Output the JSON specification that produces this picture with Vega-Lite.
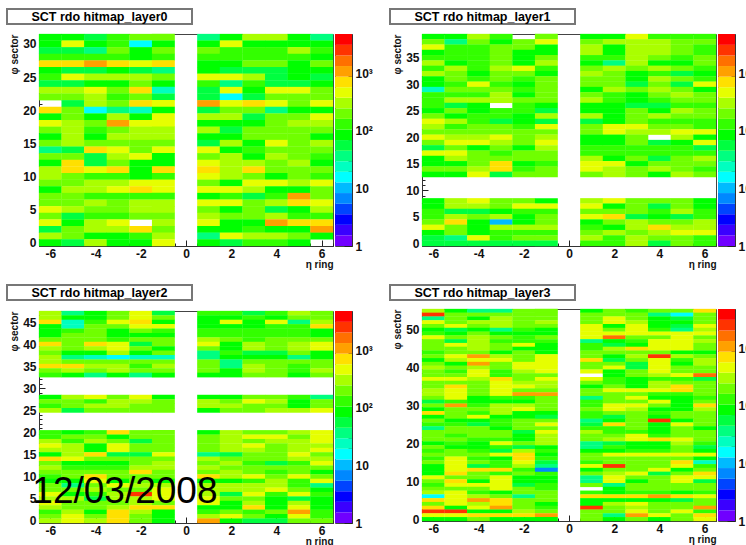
{"$schema":"https://vega.github.io/schema/vega-lite/v6.json","padding":{"left":6,"top":8,"right":0,"bottom":0},"background":"white","config":{"font":"Liberation Sans","view":{"stroke":"#444","strokeWidth":1},"axis":{"grid":false,"labelFont":"Liberation Sans","labelFontWeight":"bold","labelFontSize":12,"labelColor":"#111","titleFont":"Liberation Sans","titleFontWeight":"bold","titleFontSize":10,"titleColor":"#111","domainColor":"#333","tickColor":"#222","labelOverlap":false,"labelBound":false,"labelFlush":false,"zindex":1}},"datasets":{"c":[{"lo":1,"hi":1.53},{"lo":1.53,"hi":2.33},{"lo":2.33,"hi":3.56},{"lo":3.56,"hi":5.4},{"lo":5.4,"hi":8.3},{"lo":8.3,"hi":12.7},{"lo":12.7,"hi":19.4},{"lo":19.4,"hi":29.6},{"lo":29.6,"hi":45},{"lo":45,"hi":69},{"lo":69,"hi":105},{"lo":105,"hi":161},{"lo":161,"hi":245},{"lo":245,"hi":375},{"lo":375,"hi":570},{"lo":570,"hi":870},{"lo":870,"hi":1330},{"lo":1330,"hi":2030},{"lo":2030,"hi":3100},{"lo":3100,"hi":4786}],
"l0":[
{"e":-6,"s":31,"v":85},{"e":-5,"s":31,"v":85},{"e":-4,"s":31,"v":56},{"e":-3,"s":31,"v":130},{"e":-2,"s":31,"v":200},{"e":-1,"s":31,"v":200},{"e":1,"s":31,"v":37},{"e":2,"s":31,"v":85},{"e":3,"s":31,"v":305},{"e":4,"s":31,"v":305},{"e":5,"s":31,"v":85},{"e":6,"s":31,"v":37},
{"e":-6,"s":30,"v":85},{"e":-5,"s":30,"v":465},{"e":-4,"s":30,"v":85},{"e":-3,"s":30,"v":130},{"e":-2,"s":30,"v":16},{"e":-1,"s":30,"v":85},{"e":1,"s":30,"v":85},{"e":2,"s":30,"v":465},{"e":3,"s":30,"v":85},{"e":4,"s":30,"v":85},{"e":5,"s":30,"v":85},{"e":6,"s":30,"v":85},
{"e":-6,"s":29,"v":56},{"e":-5,"s":29,"v":56},{"e":-4,"s":29,"v":37},{"e":-3,"s":29,"v":200},{"e":-2,"s":29,"v":85},{"e":-1,"s":29,"v":200},{"e":1,"s":29,"v":200},{"e":2,"s":29,"v":130},{"e":3,"s":29,"v":130},{"e":4,"s":29,"v":130},{"e":5,"s":29,"v":305},{"e":6,"s":29,"v":130},
{"e":-6,"s":28,"v":130},{"e":-5,"s":28,"v":130},{"e":-4,"s":28,"v":130},{"e":-3,"s":28,"v":130},{"e":-2,"s":28,"v":85},{"e":-1,"s":28,"v":130},{"e":1,"s":28,"v":130},{"e":2,"s":28,"v":130},{"e":3,"s":28,"v":130},{"e":4,"s":28,"v":130},{"e":5,"s":28,"v":130},{"e":6,"s":28,"v":85},
{"e":-6,"s":27,"v":705},{"e":-5,"s":27,"v":705},{"e":-4,"s":27,"v":1080},{"e":-3,"s":27,"v":705},{"e":-2,"s":27,"v":465},{"e":-1,"s":27,"v":705},{"e":1,"s":27,"v":85},{"e":2,"s":27,"v":85},{"e":3,"s":27,"v":200},{"e":4,"s":27,"v":200},{"e":5,"s":27,"v":85},{"e":6,"s":27,"v":200},
{"e":-6,"s":26,"v":85},{"e":-5,"s":26,"v":56},{"e":-4,"s":26,"v":56},{"e":-3,"s":26,"v":85},{"e":-2,"s":26,"v":56},{"e":-1,"s":26,"v":37},{"e":1,"s":26,"v":85},{"e":2,"s":26,"v":56},{"e":3,"s":26,"v":56},{"e":4,"s":26,"v":56},{"e":5,"s":26,"v":85},{"e":6,"s":26,"v":85},
{"e":-6,"s":25,"v":130},{"e":-5,"s":25,"v":465},{"e":-4,"s":25,"v":305},{"e":-3,"s":25,"v":305},{"e":-2,"s":25,"v":305},{"e":-1,"s":25,"v":200},{"e":1,"s":25,"v":465},{"e":2,"s":25,"v":465},{"e":3,"s":25,"v":305},{"e":4,"s":25,"v":56},{"e":5,"s":25,"v":85},{"e":6,"s":25,"v":56},
{"e":-6,"s":24,"v":56},{"e":-5,"s":24,"v":56},{"e":-4,"s":24,"v":85},{"e":-3,"s":24,"v":85},{"e":-2,"s":24,"v":200},{"e":-1,"s":24,"v":85},{"e":1,"s":24,"v":130},{"e":2,"s":24,"v":37},{"e":3,"s":24,"v":130},{"e":4,"s":24,"v":56},{"e":5,"s":24,"v":56},{"e":6,"s":24,"v":85},
{"e":-6,"s":23,"v":305},{"e":-5,"s":23,"v":305},{"e":-4,"s":23,"v":465},{"e":-3,"s":23,"v":200},{"e":-2,"s":23,"v":705},{"e":-1,"s":23,"v":24},{"e":1,"s":23,"v":56},{"e":2,"s":23,"v":465},{"e":3,"s":23,"v":85},{"e":4,"s":23,"v":465},{"e":5,"s":23,"v":465},{"e":6,"s":23,"v":200},
{"e":-6,"s":22,"v":200},{"e":-5,"s":22,"v":200},{"e":-4,"s":22,"v":305},{"e":-3,"s":22,"v":130},{"e":-2,"s":22,"v":200},{"e":-1,"s":22,"v":56},{"e":1,"s":22,"v":56},{"e":2,"s":22,"v":16},{"e":3,"s":22,"v":56},{"e":4,"s":22,"v":200},{"e":5,"s":22,"v":200},{"e":6,"s":22,"v":200},
{"e":-5,"s":21,"v":45},{"e":-4,"s":21,"v":305},{"e":-3,"s":21,"v":200},{"e":-2,"s":21,"v":705},{"e":-1,"s":21,"v":465},{"e":1,"s":21,"v":1080},{"e":2,"s":21,"v":465},{"e":3,"s":21,"v":705},{"e":4,"s":21,"v":465},{"e":5,"s":21,"v":200},{"e":6,"s":21,"v":465},
{"e":-6,"s":20,"v":705},{"e":-5,"s":20,"v":200},{"e":-4,"s":20,"v":16},{"e":-3,"s":20,"v":37},{"e":-2,"s":20,"v":24},{"e":-1,"s":20,"v":85},{"e":1,"s":20,"v":56},{"e":2,"s":20,"v":200},{"e":3,"s":20,"v":200},{"e":4,"s":20,"v":37},{"e":5,"s":20,"v":85},{"e":6,"s":20,"v":85},
{"e":-6,"s":19,"v":85},{"e":-5,"s":19,"v":200},{"e":-4,"s":19,"v":85},{"e":-3,"s":19,"v":305},{"e":-2,"s":19,"v":85},{"e":-1,"s":19,"v":465},{"e":1,"s":19,"v":305},{"e":2,"s":19,"v":305},{"e":3,"s":19,"v":56},{"e":4,"s":19,"v":200},{"e":5,"s":19,"v":200},{"e":6,"s":19,"v":465},
{"e":-6,"s":18,"v":465},{"e":-5,"s":18,"v":305},{"e":-4,"s":18,"v":200},{"e":-3,"s":18,"v":1080},{"e":-2,"s":18,"v":465},{"e":-1,"s":18,"v":465},{"e":1,"s":18,"v":85},{"e":2,"s":18,"v":85},{"e":3,"s":18,"v":85},{"e":4,"s":18,"v":200},{"e":5,"s":18,"v":305},{"e":6,"s":18,"v":305},
{"e":-6,"s":17,"v":200},{"e":-5,"s":17,"v":305},{"e":-4,"s":17,"v":130},{"e":-3,"s":17,"v":200},{"e":-2,"s":17,"v":305},{"e":-1,"s":17,"v":305},{"e":1,"s":17,"v":305},{"e":2,"s":17,"v":56},{"e":3,"s":17,"v":200},{"e":4,"s":17,"v":200},{"e":5,"s":17,"v":200},{"e":6,"s":17,"v":200},
{"e":-6,"s":16,"v":85},{"e":-5,"s":16,"v":305},{"e":-4,"s":16,"v":85},{"e":-3,"s":16,"v":305},{"e":-2,"s":16,"v":305},{"e":-1,"s":16,"v":305},{"e":1,"s":16,"v":85},{"e":2,"s":16,"v":85},{"e":3,"s":16,"v":200},{"e":4,"s":16,"v":200},{"e":5,"s":16,"v":200},{"e":6,"s":16,"v":85},
{"e":-6,"s":15,"v":200},{"e":-5,"s":15,"v":305},{"e":-4,"s":15,"v":200},{"e":-3,"s":15,"v":200},{"e":-2,"s":15,"v":200},{"e":-1,"s":15,"v":200},{"e":1,"s":15,"v":56},{"e":2,"s":15,"v":305},{"e":3,"s":15,"v":85},{"e":4,"s":15,"v":465},{"e":5,"s":15,"v":200},{"e":6,"s":15,"v":305},
{"e":-6,"s":14,"v":37},{"e":-5,"s":14,"v":56},{"e":-4,"s":14,"v":705},{"e":-3,"s":14,"v":465},{"e":-2,"s":14,"v":200},{"e":-1,"s":14,"v":465},{"e":1,"s":14,"v":465},{"e":2,"s":14,"v":85},{"e":3,"s":14,"v":130},{"e":4,"s":14,"v":200},{"e":5,"s":14,"v":200},{"e":6,"s":14,"v":200},
{"e":-6,"s":13,"v":200},{"e":-5,"s":13,"v":200},{"e":-4,"s":13,"v":56},{"e":-3,"s":13,"v":305},{"e":-2,"s":13,"v":465},{"e":-1,"s":13,"v":85},{"e":1,"s":13,"v":200},{"e":2,"s":13,"v":305},{"e":3,"s":13,"v":85},{"e":4,"s":13,"v":305},{"e":5,"s":13,"v":200},{"e":6,"s":13,"v":130},
{"e":-6,"s":12,"v":85},{"e":-5,"s":12,"v":705},{"e":-4,"s":12,"v":56},{"e":-3,"s":12,"v":200},{"e":-2,"s":12,"v":85},{"e":-1,"s":12,"v":85},{"e":1,"s":12,"v":465},{"e":2,"s":12,"v":305},{"e":3,"s":12,"v":305},{"e":4,"s":12,"v":200},{"e":5,"s":12,"v":305},{"e":6,"s":12,"v":85},
{"e":-6,"s":11,"v":305},{"e":-5,"s":11,"v":705},{"e":-4,"s":11,"v":465},{"e":-3,"s":11,"v":705},{"e":-2,"s":11,"v":85},{"e":-1,"s":11,"v":705},{"e":1,"s":11,"v":705},{"e":2,"s":11,"v":305},{"e":3,"s":11,"v":705},{"e":4,"s":11,"v":200},{"e":5,"s":11,"v":200},{"e":6,"s":11,"v":200},
{"e":-6,"s":10,"v":305},{"e":-5,"s":10,"v":200},{"e":-4,"s":10,"v":130},{"e":-3,"s":10,"v":130},{"e":-2,"s":10,"v":85},{"e":-1,"s":10,"v":130},{"e":1,"s":10,"v":465},{"e":2,"s":10,"v":305},{"e":3,"s":10,"v":200},{"e":4,"s":10,"v":85},{"e":5,"s":10,"v":200},{"e":6,"s":10,"v":130},
{"e":-6,"s":9,"v":200},{"e":-5,"s":9,"v":200},{"e":-4,"s":9,"v":305},{"e":-3,"s":9,"v":305},{"e":-2,"s":9,"v":465},{"e":-1,"s":9,"v":465},{"e":1,"s":9,"v":200},{"e":2,"s":9,"v":85},{"e":3,"s":9,"v":465},{"e":4,"s":9,"v":465},{"e":5,"s":9,"v":305},{"e":6,"s":9,"v":465},
{"e":-6,"s":8,"v":85},{"e":-5,"s":8,"v":305},{"e":-4,"s":8,"v":305},{"e":-3,"s":8,"v":465},{"e":-2,"s":8,"v":705},{"e":-1,"s":8,"v":465},{"e":1,"s":8,"v":465},{"e":2,"s":8,"v":465},{"e":3,"s":8,"v":305},{"e":4,"s":8,"v":85},{"e":5,"s":8,"v":85},{"e":6,"s":8,"v":200},
{"e":-6,"s":7,"v":200},{"e":-5,"s":7,"v":200},{"e":-4,"s":7,"v":130},{"e":-3,"s":7,"v":130},{"e":-2,"s":7,"v":130},{"e":-1,"s":7,"v":130},{"e":1,"s":7,"v":85},{"e":2,"s":7,"v":130},{"e":3,"s":7,"v":56},{"e":4,"s":7,"v":130},{"e":5,"s":7,"v":1080},{"e":6,"s":7,"v":200},
{"e":-6,"s":6,"v":200},{"e":-5,"s":6,"v":200},{"e":-4,"s":6,"v":305},{"e":-3,"s":6,"v":200},{"e":-2,"s":6,"v":305},{"e":-1,"s":6,"v":305},{"e":1,"s":6,"v":465},{"e":2,"s":6,"v":465},{"e":3,"s":6,"v":200},{"e":4,"s":6,"v":305},{"e":5,"s":6,"v":705},{"e":6,"s":6,"v":465},
{"e":-6,"s":5,"v":465},{"e":-5,"s":5,"v":305},{"e":-4,"s":5,"v":200},{"e":-3,"s":5,"v":200},{"e":-2,"s":5,"v":305},{"e":-1,"s":5,"v":305},{"e":1,"s":5,"v":200},{"e":2,"s":5,"v":85},{"e":3,"s":5,"v":200},{"e":4,"s":5,"v":56},{"e":5,"s":5,"v":85},{"e":6,"s":5,"v":305},
{"e":-6,"s":4,"v":200},{"e":-5,"s":4,"v":56},{"e":-4,"s":4,"v":130},{"e":-3,"s":4,"v":130},{"e":-2,"s":4,"v":200},{"e":-1,"s":4,"v":200},{"e":1,"s":4,"v":305},{"e":2,"s":4,"v":200},{"e":3,"s":4,"v":200},{"e":4,"s":4,"v":305},{"e":5,"s":4,"v":130},{"e":6,"s":4,"v":130},
{"e":-6,"s":3,"v":465},{"e":-5,"s":3,"v":85},{"e":-4,"s":3,"v":305},{"e":-3,"s":3,"v":465},{"e":-1,"s":3,"v":305},{"e":1,"s":3,"v":465},{"e":2,"s":3,"v":85},{"e":3,"s":3,"v":85},{"e":4,"s":3,"v":1080},{"e":5,"s":3,"v":705},{"e":6,"s":3,"v":705},
{"e":-6,"s":2,"v":56},{"e":-5,"s":2,"v":200},{"e":-4,"s":2,"v":305},{"e":-3,"s":2,"v":305},{"e":-2,"s":2,"v":705},{"e":-1,"s":2,"v":200},{"e":1,"s":2,"v":85},{"e":2,"s":2,"v":85},{"e":3,"s":2,"v":130},{"e":4,"s":2,"v":85},{"e":5,"s":2,"v":85},{"e":6,"s":2,"v":1080},
{"e":-6,"s":1,"v":305},{"e":-5,"s":1,"v":200},{"e":-4,"s":1,"v":85},{"e":-3,"s":1,"v":85},{"e":-2,"s":1,"v":130},{"e":-1,"s":1,"v":305},{"e":1,"s":1,"v":37},{"e":2,"s":1,"v":465},{"e":3,"s":1,"v":305},{"e":4,"s":1,"v":305},{"e":5,"s":1,"v":200},{"e":6,"s":1,"v":85},
{"e":-6,"s":0,"v":85},{"e":-5,"s":0,"v":56},{"e":-4,"s":0,"v":305},{"e":-3,"s":0,"v":85},{"e":-2,"s":0,"v":85},{"e":-1,"s":0,"v":465},{"e":1,"s":0,"v":85},{"e":2,"s":0,"v":56},{"e":3,"s":0,"v":130},{"e":4,"s":0,"v":130},{"e":5,"s":0,"v":85}],
"l1":[
{"e":-6,"s":39,"v":85},{"e":-5,"s":39,"v":85},{"e":-4,"s":39,"v":305},{"e":-3,"s":39,"v":130},{"e":-1,"s":39,"v":200},{"e":1,"s":39,"v":85},{"e":2,"s":39,"v":85},{"e":3,"s":39,"v":465},{"e":4,"s":39,"v":130},{"e":5,"s":39,"v":130},{"e":6,"s":39,"v":130},
{"e":-6,"s":38,"v":200},{"e":-5,"s":38,"v":37},{"e":-4,"s":38,"v":200},{"e":-3,"s":38,"v":85},{"e":-2,"s":38,"v":200},{"e":-1,"s":38,"v":465},{"e":1,"s":38,"v":200},{"e":2,"s":38,"v":305},{"e":3,"s":38,"v":305},{"e":4,"s":38,"v":305},{"e":5,"s":38,"v":200},{"e":6,"s":38,"v":200},
{"e":-6,"s":37,"v":465},{"e":-5,"s":37,"v":130},{"e":-4,"s":37,"v":130},{"e":-3,"s":37,"v":200},{"e":-2,"s":37,"v":200},{"e":-1,"s":37,"v":85},{"e":1,"s":37,"v":305},{"e":2,"s":37,"v":85},{"e":3,"s":37,"v":305},{"e":4,"s":37,"v":305},{"e":5,"s":37,"v":200},{"e":6,"s":37,"v":130},
{"e":-6,"s":36,"v":85},{"e":-5,"s":36,"v":130},{"e":-4,"s":36,"v":130},{"e":-3,"s":36,"v":200},{"e":-2,"s":36,"v":85},{"e":-1,"s":36,"v":85},{"e":1,"s":36,"v":305},{"e":2,"s":36,"v":85},{"e":3,"s":36,"v":305},{"e":4,"s":36,"v":305},{"e":5,"s":36,"v":200},{"e":6,"s":36,"v":130},
{"e":-6,"s":35,"v":130},{"e":-5,"s":35,"v":130},{"e":-4,"s":35,"v":130},{"e":-3,"s":35,"v":200},{"e":-2,"s":35,"v":85},{"e":-1,"s":35,"v":200},{"e":1,"s":35,"v":130},{"e":2,"s":35,"v":130},{"e":3,"s":35,"v":305},{"e":4,"s":35,"v":200},{"e":5,"s":35,"v":130},{"e":6,"s":35,"v":200},
{"e":-6,"s":34,"v":305},{"e":-5,"s":34,"v":85},{"e":-4,"s":34,"v":130},{"e":-3,"s":34,"v":200},{"e":-2,"s":34,"v":85},{"e":-1,"s":34,"v":305},{"e":1,"s":34,"v":85},{"e":2,"s":34,"v":37},{"e":3,"s":34,"v":305},{"e":4,"s":34,"v":85},{"e":5,"s":34,"v":85},{"e":6,"s":34,"v":200},
{"e":-6,"s":33,"v":130},{"e":-5,"s":33,"v":305},{"e":-4,"s":33,"v":130},{"e":-3,"s":33,"v":305},{"e":-2,"s":33,"v":465},{"e":-1,"s":33,"v":130},{"e":1,"s":33,"v":200},{"e":2,"s":33,"v":305},{"e":3,"s":33,"v":200},{"e":4,"s":33,"v":305},{"e":5,"s":33,"v":200},{"e":6,"s":33,"v":130},
{"e":-6,"s":32,"v":305},{"e":-5,"s":32,"v":200},{"e":-4,"s":32,"v":85},{"e":-3,"s":32,"v":200},{"e":-2,"s":32,"v":200},{"e":-1,"s":32,"v":85},{"e":1,"s":32,"v":305},{"e":2,"s":32,"v":200},{"e":3,"s":32,"v":85},{"e":4,"s":32,"v":130},{"e":5,"s":32,"v":56},{"e":6,"s":32,"v":85},
{"e":-6,"s":31,"v":85},{"e":-5,"s":31,"v":200},{"e":-4,"s":31,"v":130},{"e":-3,"s":31,"v":200},{"e":-2,"s":31,"v":130},{"e":-1,"s":31,"v":200},{"e":1,"s":31,"v":200},{"e":2,"s":31,"v":200},{"e":3,"s":31,"v":85},{"e":4,"s":31,"v":305},{"e":5,"s":31,"v":200},{"e":6,"s":31,"v":130},
{"e":-6,"s":30,"v":85},{"e":-5,"s":30,"v":130},{"e":-4,"s":30,"v":465},{"e":-3,"s":30,"v":130},{"e":-2,"s":30,"v":85},{"e":-1,"s":30,"v":200},{"e":1,"s":30,"v":200},{"e":2,"s":30,"v":200},{"e":3,"s":30,"v":56},{"e":4,"s":30,"v":200},{"e":5,"s":30,"v":56},{"e":6,"s":30,"v":465},
{"e":-6,"s":29,"v":24},{"e":-5,"s":29,"v":200},{"e":-4,"s":29,"v":200},{"e":-3,"s":29,"v":200},{"e":-2,"s":29,"v":130},{"e":-1,"s":29,"v":200},{"e":1,"s":29,"v":85},{"e":2,"s":29,"v":305},{"e":3,"s":29,"v":200},{"e":4,"s":29,"v":305},{"e":5,"s":29,"v":200},{"e":6,"s":29,"v":85},
{"e":-6,"s":28,"v":130},{"e":-5,"s":28,"v":130},{"e":-4,"s":28,"v":130},{"e":-3,"s":28,"v":305},{"e":-2,"s":28,"v":85},{"e":-1,"s":28,"v":200},{"e":1,"s":28,"v":200},{"e":2,"s":28,"v":130},{"e":3,"s":28,"v":85},{"e":4,"s":28,"v":200},{"e":5,"s":28,"v":305},{"e":6,"s":28,"v":200},
{"e":-6,"s":27,"v":130},{"e":-5,"s":27,"v":305},{"e":-4,"s":27,"v":305},{"e":-3,"s":27,"v":305},{"e":-2,"s":27,"v":200},{"e":-1,"s":27,"v":200},{"e":1,"s":27,"v":305},{"e":2,"s":27,"v":130},{"e":3,"s":27,"v":85},{"e":4,"s":27,"v":130},{"e":5,"s":27,"v":200},{"e":6,"s":27,"v":200},
{"e":-6,"s":26,"v":130},{"e":-5,"s":26,"v":56},{"e":-4,"s":26,"v":85},{"e":-2,"s":26,"v":130},{"e":-1,"s":26,"v":85},{"e":1,"s":26,"v":85},{"e":2,"s":26,"v":85},{"e":3,"s":26,"v":56},{"e":4,"s":26,"v":56},{"e":5,"s":26,"v":130},{"e":6,"s":26,"v":130},
{"e":-6,"s":25,"v":85},{"e":-5,"s":25,"v":200},{"e":-4,"s":25,"v":85},{"e":-3,"s":25,"v":130},{"e":-2,"s":25,"v":130},{"e":-1,"s":25,"v":56},{"e":1,"s":25,"v":85},{"e":2,"s":25,"v":85},{"e":3,"s":25,"v":200},{"e":4,"s":25,"v":85},{"e":5,"s":25,"v":305},{"e":6,"s":25,"v":200},
{"e":-6,"s":24,"v":200},{"e":-5,"s":24,"v":85},{"e":-4,"s":24,"v":130},{"e":-3,"s":24,"v":130},{"e":-2,"s":24,"v":85},{"e":-1,"s":24,"v":305},{"e":1,"s":24,"v":305},{"e":2,"s":24,"v":85},{"e":3,"s":24,"v":200},{"e":4,"s":24,"v":305},{"e":5,"s":24,"v":200},{"e":6,"s":24,"v":200},
{"e":-6,"s":23,"v":465},{"e":-5,"s":23,"v":305},{"e":-4,"s":23,"v":130},{"e":-3,"s":23,"v":56},{"e":-2,"s":23,"v":85},{"e":-1,"s":23,"v":56},{"e":1,"s":23,"v":56},{"e":2,"s":23,"v":85},{"e":3,"s":23,"v":200},{"e":4,"s":23,"v":130},{"e":5,"s":23,"v":130},{"e":6,"s":23,"v":130},
{"e":-6,"s":22,"v":305},{"e":-5,"s":22,"v":130},{"e":-4,"s":22,"v":200},{"e":-3,"s":22,"v":200},{"e":-2,"s":22,"v":130},{"e":-1,"s":22,"v":465},{"e":1,"s":22,"v":200},{"e":2,"s":22,"v":465},{"e":3,"s":22,"v":465},{"e":4,"s":22,"v":200},{"e":5,"s":22,"v":200},{"e":6,"s":22,"v":130},
{"e":-6,"s":21,"v":200},{"e":-5,"s":21,"v":200},{"e":-4,"s":21,"v":200},{"e":-3,"s":21,"v":200},{"e":-2,"s":21,"v":200},{"e":-1,"s":21,"v":200},{"e":1,"s":21,"v":200},{"e":2,"s":21,"v":465},{"e":3,"s":21,"v":305},{"e":4,"s":21,"v":305},{"e":5,"s":21,"v":465},{"e":6,"s":21,"v":465},
{"e":-6,"s":20,"v":465},{"e":-5,"s":20,"v":305},{"e":-4,"s":20,"v":305},{"e":-3,"s":20,"v":465},{"e":-2,"s":20,"v":200},{"e":-1,"s":20,"v":305},{"e":1,"s":20,"v":85},{"e":2,"s":20,"v":85},{"e":3,"s":20,"v":200},{"e":5,"s":20,"v":305},{"e":6,"s":20,"v":85},
{"e":-6,"s":19,"v":200},{"e":-5,"s":19,"v":465},{"e":-4,"s":19,"v":465},{"e":-3,"s":19,"v":305},{"e":-2,"s":19,"v":200},{"e":-1,"s":19,"v":465},{"e":1,"s":19,"v":85},{"e":2,"s":19,"v":85},{"e":3,"s":19,"v":200},{"e":4,"s":19,"v":56},{"e":5,"s":19,"v":85},{"e":6,"s":19,"v":465},
{"e":-6,"s":18,"v":56},{"e":-5,"s":18,"v":200},{"e":-4,"s":18,"v":85},{"e":-3,"s":18,"v":200},{"e":-2,"s":18,"v":85},{"e":-1,"s":18,"v":305},{"e":1,"s":18,"v":130},{"e":2,"s":18,"v":130},{"e":3,"s":18,"v":130},{"e":4,"s":18,"v":130},{"e":5,"s":18,"v":130},{"e":6,"s":18,"v":56},
{"e":-6,"s":17,"v":465},{"e":-5,"s":17,"v":465},{"e":-4,"s":17,"v":200},{"e":-3,"s":17,"v":130},{"e":-2,"s":17,"v":200},{"e":-1,"s":17,"v":200},{"e":1,"s":17,"v":130},{"e":2,"s":17,"v":130},{"e":3,"s":17,"v":130},{"e":4,"s":17,"v":130},{"e":5,"s":17,"v":130},{"e":6,"s":17,"v":130},
{"e":-6,"s":16,"v":85},{"e":-5,"s":16,"v":305},{"e":-4,"s":16,"v":200},{"e":-3,"s":16,"v":200},{"e":-2,"s":16,"v":200},{"e":-1,"s":16,"v":200},{"e":1,"s":16,"v":305},{"e":2,"s":16,"v":85},{"e":3,"s":16,"v":200},{"e":4,"s":16,"v":56},{"e":5,"s":16,"v":200},{"e":6,"s":16,"v":305},
{"e":-6,"s":15,"v":85},{"e":-5,"s":15,"v":85},{"e":-4,"s":15,"v":200},{"e":-3,"s":15,"v":705},{"e":-2,"s":15,"v":85},{"e":-1,"s":15,"v":130},{"e":1,"s":15,"v":465},{"e":2,"s":15,"v":465},{"e":3,"s":15,"v":85},{"e":4,"s":15,"v":200},{"e":5,"s":15,"v":200},{"e":6,"s":15,"v":200},
{"e":-6,"s":14,"v":200},{"e":-5,"s":14,"v":200},{"e":-4,"s":14,"v":305},{"e":-3,"s":14,"v":705},{"e":-2,"s":14,"v":130},{"e":-1,"s":14,"v":200},{"e":1,"s":14,"v":465},{"e":2,"s":14,"v":305},{"e":3,"s":14,"v":200},{"e":4,"s":14,"v":305},{"e":5,"s":14,"v":200},{"e":6,"s":14,"v":130},
{"e":-6,"s":13,"v":85},{"e":-5,"s":13,"v":85},{"e":-4,"s":13,"v":465},{"e":-3,"s":13,"v":56},{"e":-2,"s":13,"v":200},{"e":-1,"s":13,"v":200},{"e":1,"s":13,"v":200},{"e":2,"s":13,"v":305},{"e":3,"s":13,"v":200},{"e":4,"s":13,"v":85},{"e":5,"s":13,"v":305},{"e":6,"s":13,"v":200},
{"e":-6,"s":8,"v":85},{"e":-5,"s":8,"v":305},{"e":-4,"s":8,"v":465},{"e":-3,"s":8,"v":200},{"e":-2,"s":8,"v":200},{"e":-1,"s":8,"v":85},{"e":1,"s":8,"v":305},{"e":2,"s":8,"v":465},{"e":3,"s":8,"v":200},{"e":4,"s":8,"v":200},{"e":5,"s":8,"v":200},{"e":6,"s":8,"v":85},
{"e":-6,"s":7,"v":85},{"e":-5,"s":7,"v":305},{"e":-4,"s":7,"v":305},{"e":-3,"s":7,"v":200},{"e":-2,"s":7,"v":465},{"e":-1,"s":7,"v":465},{"e":1,"s":7,"v":465},{"e":2,"s":7,"v":85},{"e":3,"s":7,"v":200},{"e":4,"s":7,"v":56},{"e":5,"s":7,"v":200},{"e":6,"s":7,"v":85},
{"e":-6,"s":6,"v":130},{"e":-5,"s":6,"v":56},{"e":-4,"s":6,"v":56},{"e":-3,"s":6,"v":85},{"e":-2,"s":6,"v":130},{"e":-1,"s":6,"v":130},{"e":1,"s":6,"v":200},{"e":2,"s":6,"v":200},{"e":3,"s":6,"v":200},{"e":4,"s":6,"v":130},{"e":5,"s":6,"v":305},{"e":6,"s":6,"v":130},
{"e":-6,"s":5,"v":130},{"e":-5,"s":5,"v":305},{"e":-4,"s":5,"v":200},{"e":-3,"s":5,"v":305},{"e":-2,"s":5,"v":85},{"e":-1,"s":5,"v":200},{"e":1,"s":5,"v":465},{"e":2,"s":5,"v":705},{"e":3,"s":5,"v":56},{"e":4,"s":5,"v":85},{"e":5,"s":5,"v":56},{"e":6,"s":5,"v":130},
{"e":-6,"s":4,"v":200},{"e":-5,"s":4,"v":705},{"e":-4,"s":4,"v":85},{"e":-3,"s":4,"v":10},{"e":-2,"s":4,"v":85},{"e":-1,"s":4,"v":200},{"e":1,"s":4,"v":85},{"e":2,"s":4,"v":200},{"e":3,"s":4,"v":305},{"e":4,"s":4,"v":200},{"e":5,"s":4,"v":200},{"e":6,"s":4,"v":305},
{"e":-6,"s":3,"v":465},{"e":-5,"s":3,"v":200},{"e":-4,"s":3,"v":85},{"e":-3,"s":3,"v":305},{"e":-2,"s":3,"v":305},{"e":-1,"s":3,"v":305},{"e":1,"s":3,"v":130},{"e":2,"s":3,"v":85},{"e":3,"s":3,"v":305},{"e":4,"s":3,"v":705},{"e":5,"s":3,"v":305},{"e":6,"s":3,"v":305},
{"e":-6,"s":2,"v":85},{"e":-5,"s":2,"v":200},{"e":-4,"s":2,"v":85},{"e":-3,"s":2,"v":130},{"e":-2,"s":2,"v":130},{"e":-1,"s":2,"v":130},{"e":1,"s":2,"v":200},{"e":2,"s":2,"v":305},{"e":3,"s":2,"v":200},{"e":4,"s":2,"v":305},{"e":5,"s":2,"v":465},{"e":6,"s":2,"v":465},
{"e":-6,"s":1,"v":56},{"e":-5,"s":1,"v":37},{"e":-4,"s":1,"v":465},{"e":-3,"s":1,"v":130},{"e":-2,"s":1,"v":200},{"e":-1,"s":1,"v":200},{"e":1,"s":1,"v":305},{"e":2,"s":1,"v":130},{"e":3,"s":1,"v":305},{"e":4,"s":1,"v":200},{"e":5,"s":1,"v":200},{"e":6,"s":1,"v":130},
{"e":-6,"s":0,"v":56},{"e":-5,"s":0,"v":56},{"e":-4,"s":0,"v":56},{"e":-3,"s":0,"v":56},{"e":-2,"s":0,"v":56},{"e":-1,"s":0,"v":56},{"e":1,"s":0,"v":130},{"e":2,"s":0,"v":130},{"e":3,"s":0,"v":305},{"e":4,"s":0,"v":56},{"e":5,"s":0,"v":200},{"e":6,"s":0,"v":130}],
"l2":[
{"e":-6,"s":47,"v":305},{"e":-5,"s":47,"v":37},{"e":-4,"s":47,"v":85},{"e":-3,"s":47,"v":200},{"e":-2,"s":47,"v":465},{"e":-1,"s":47,"v":56},{"e":1,"s":47,"v":130},{"e":2,"s":47,"v":130},{"e":3,"s":47,"v":56},{"e":4,"s":47,"v":130},{"e":5,"s":47,"v":305},{"e":6,"s":47,"v":200},
{"e":-6,"s":46,"v":305},{"e":-5,"s":46,"v":85},{"e":-4,"s":46,"v":85},{"e":-3,"s":46,"v":200},{"e":-2,"s":46,"v":465},{"e":-1,"s":46,"v":200},{"e":1,"s":46,"v":85},{"e":2,"s":46,"v":85},{"e":3,"s":46,"v":130},{"e":4,"s":46,"v":85},{"e":5,"s":46,"v":200},{"e":6,"s":46,"v":200},
{"e":-6,"s":45,"v":705},{"e":-5,"s":45,"v":24},{"e":-4,"s":45,"v":130},{"e":-3,"s":45,"v":465},{"e":-2,"s":45,"v":705},{"e":-1,"s":45,"v":85},{"e":1,"s":45,"v":85},{"e":2,"s":45,"v":465},{"e":3,"s":45,"v":85},{"e":4,"s":45,"v":465},{"e":5,"s":45,"v":37},{"e":6,"s":45,"v":305},
{"e":-6,"s":44,"v":85},{"e":-5,"s":44,"v":24},{"e":-4,"s":44,"v":200},{"e":-3,"s":44,"v":200},{"e":-2,"s":44,"v":465},{"e":-1,"s":44,"v":465},{"e":1,"s":44,"v":85},{"e":2,"s":44,"v":85},{"e":3,"s":44,"v":85},{"e":4,"s":44,"v":130},{"e":5,"s":44,"v":130},{"e":6,"s":44,"v":705},
{"e":-6,"s":43,"v":85},{"e":-5,"s":43,"v":130},{"e":-4,"s":43,"v":200},{"e":-3,"s":43,"v":85},{"e":-2,"s":43,"v":200},{"e":-1,"s":43,"v":130},{"e":1,"s":43,"v":130},{"e":2,"s":43,"v":130},{"e":3,"s":43,"v":130},{"e":4,"s":43,"v":130},{"e":5,"s":43,"v":130},{"e":6,"s":43,"v":85},
{"e":-6,"s":42,"v":85},{"e":-5,"s":42,"v":200},{"e":-4,"s":42,"v":200},{"e":-3,"s":42,"v":85},{"e":-2,"s":42,"v":85},{"e":-1,"s":42,"v":85},{"e":1,"s":42,"v":130},{"e":2,"s":42,"v":130},{"e":3,"s":42,"v":130},{"e":4,"s":42,"v":130},{"e":5,"s":42,"v":130},{"e":6,"s":42,"v":85},
{"e":-6,"s":41,"v":200},{"e":-5,"s":41,"v":200},{"e":-4,"s":41,"v":200},{"e":-3,"s":41,"v":130},{"e":-2,"s":41,"v":200},{"e":-1,"s":41,"v":200},{"e":1,"s":41,"v":305},{"e":2,"s":41,"v":200},{"e":3,"s":41,"v":130},{"e":4,"s":41,"v":200},{"e":5,"s":41,"v":200},{"e":6,"s":41,"v":200},
{"e":-6,"s":40,"v":705},{"e":-5,"s":40,"v":200},{"e":-4,"s":40,"v":705},{"e":-3,"s":40,"v":465},{"e":-2,"s":40,"v":56},{"e":-1,"s":40,"v":200},{"e":1,"s":40,"v":465},{"e":2,"s":40,"v":85},{"e":3,"s":40,"v":305},{"e":4,"s":40,"v":200},{"e":5,"s":40,"v":305},{"e":6,"s":40,"v":465},
{"e":-6,"s":39,"v":305},{"e":-5,"s":39,"v":200},{"e":-4,"s":39,"v":305},{"e":-3,"s":39,"v":465},{"e":-2,"s":39,"v":200},{"e":-1,"s":39,"v":85},{"e":1,"s":39,"v":200},{"e":2,"s":39,"v":85},{"e":3,"s":39,"v":305},{"e":4,"s":39,"v":200},{"e":5,"s":39,"v":305},{"e":6,"s":39,"v":465},
{"e":-6,"s":38,"v":200},{"e":-5,"s":38,"v":85},{"e":-4,"s":38,"v":85},{"e":-3,"s":38,"v":305},{"e":-2,"s":38,"v":85},{"e":-1,"s":38,"v":200},{"e":1,"s":38,"v":37},{"e":2,"s":38,"v":130},{"e":3,"s":38,"v":56},{"e":4,"s":38,"v":56},{"e":5,"s":38,"v":200},{"e":6,"s":38,"v":85},
{"e":-6,"s":37,"v":305},{"e":-5,"s":37,"v":37},{"e":-4,"s":37,"v":24},{"e":-3,"s":37,"v":16},{"e":-2,"s":37,"v":24},{"e":-1,"s":37,"v":24},{"e":1,"s":37,"v":37},{"e":2,"s":37,"v":85},{"e":3,"s":37,"v":85},{"e":4,"s":37,"v":85},{"e":5,"s":37,"v":37},{"e":6,"s":37,"v":85},
{"e":-6,"s":36,"v":305},{"e":-5,"s":36,"v":200},{"e":-4,"s":36,"v":200},{"e":-3,"s":36,"v":200},{"e":-2,"s":36,"v":200},{"e":-1,"s":36,"v":200},{"e":1,"s":36,"v":200},{"e":2,"s":36,"v":37},{"e":3,"s":36,"v":200},{"e":4,"s":36,"v":200},{"e":5,"s":36,"v":200},{"e":6,"s":36,"v":200},
{"e":-6,"s":35,"v":705},{"e":-5,"s":35,"v":705},{"e":-4,"s":35,"v":305},{"e":-3,"s":35,"v":305},{"e":-2,"s":35,"v":130},{"e":-1,"s":35,"v":305},{"e":1,"s":35,"v":200},{"e":2,"s":35,"v":37},{"e":3,"s":35,"v":305},{"e":4,"s":35,"v":200},{"e":5,"s":35,"v":130},{"e":6,"s":35,"v":200},
{"e":-6,"s":34,"v":200},{"e":-5,"s":34,"v":305},{"e":-4,"s":34,"v":200},{"e":-3,"s":34,"v":305},{"e":-2,"s":34,"v":200},{"e":-1,"s":34,"v":200},{"e":1,"s":34,"v":200},{"e":2,"s":34,"v":85},{"e":3,"s":34,"v":305},{"e":4,"s":34,"v":200},{"e":5,"s":34,"v":130},{"e":6,"s":34,"v":305},
{"e":-6,"s":33,"v":130},{"e":-5,"s":33,"v":85},{"e":-4,"s":33,"v":37},{"e":-3,"s":33,"v":85},{"e":-2,"s":33,"v":37},{"e":-1,"s":33,"v":85},{"e":1,"s":33,"v":85},{"e":2,"s":33,"v":85},{"e":3,"s":33,"v":200},{"e":4,"s":33,"v":200},{"e":5,"s":33,"v":85},{"e":6,"s":33,"v":200},
{"e":-6,"s":28,"v":85},{"e":-5,"s":28,"v":305},{"e":-4,"s":28,"v":465},{"e":-3,"s":28,"v":200},{"e":-2,"s":28,"v":465},{"e":-1,"s":28,"v":85},{"e":1,"s":28,"v":85},{"e":2,"s":28,"v":85},{"e":3,"s":28,"v":200},{"e":4,"s":28,"v":200},{"e":5,"s":28,"v":130},{"e":6,"s":28,"v":37},
{"e":-6,"s":27,"v":200},{"e":-5,"s":27,"v":200},{"e":-4,"s":27,"v":130},{"e":-3,"s":27,"v":305},{"e":-2,"s":27,"v":305},{"e":-1,"s":27,"v":200},{"e":1,"s":27,"v":305},{"e":2,"s":27,"v":200},{"e":3,"s":27,"v":465},{"e":4,"s":27,"v":305},{"e":5,"s":27,"v":85},{"e":6,"s":27,"v":200},
{"e":-6,"s":26,"v":130},{"e":-5,"s":26,"v":200},{"e":-4,"s":26,"v":305},{"e":-3,"s":26,"v":305},{"e":-2,"s":26,"v":200},{"e":-1,"s":26,"v":200},{"e":1,"s":26,"v":305},{"e":2,"s":26,"v":305},{"e":3,"s":26,"v":200},{"e":4,"s":26,"v":200},{"e":5,"s":26,"v":85},{"e":6,"s":26,"v":200},
{"e":-6,"s":25,"v":305},{"e":-5,"s":25,"v":56},{"e":-4,"s":25,"v":200},{"e":-3,"s":25,"v":200},{"e":-2,"s":25,"v":200},{"e":-1,"s":25,"v":200},{"e":1,"s":25,"v":85},{"e":2,"s":25,"v":200},{"e":3,"s":25,"v":200},{"e":4,"s":25,"v":305},{"e":5,"s":25,"v":305},{"e":6,"s":25,"v":465},
{"e":-6,"s":20,"v":130},{"e":-5,"s":20,"v":85},{"e":-4,"s":20,"v":130},{"e":-3,"s":20,"v":705},{"e":-2,"s":20,"v":200},{"e":-1,"s":20,"v":200},{"e":1,"s":20,"v":85},{"e":2,"s":20,"v":305},{"e":3,"s":20,"v":200},{"e":4,"s":20,"v":200},{"e":5,"s":20,"v":305},{"e":6,"s":20,"v":465},
{"e":-6,"s":19,"v":130},{"e":-5,"s":19,"v":200},{"e":-4,"s":19,"v":200},{"e":-3,"s":19,"v":85},{"e":-2,"s":19,"v":200},{"e":-1,"s":19,"v":200},{"e":1,"s":19,"v":200},{"e":2,"s":19,"v":305},{"e":3,"s":19,"v":465},{"e":4,"s":19,"v":465},{"e":5,"s":19,"v":200},{"e":6,"s":19,"v":465},
{"e":-6,"s":18,"v":305},{"e":-5,"s":18,"v":130},{"e":-4,"s":18,"v":305},{"e":-3,"s":18,"v":200},{"e":-2,"s":18,"v":56},{"e":-1,"s":18,"v":200},{"e":1,"s":18,"v":200},{"e":2,"s":18,"v":305},{"e":3,"s":18,"v":200},{"e":4,"s":18,"v":305},{"e":5,"s":18,"v":305},{"e":6,"s":18,"v":465},
{"e":-6,"s":17,"v":465},{"e":-5,"s":17,"v":305},{"e":-4,"s":17,"v":85},{"e":-3,"s":17,"v":465},{"e":-2,"s":17,"v":200},{"e":-1,"s":17,"v":200},{"e":1,"s":17,"v":200},{"e":2,"s":17,"v":305},{"e":3,"s":17,"v":465},{"e":4,"s":17,"v":200},{"e":5,"s":17,"v":305},{"e":6,"s":17,"v":305},
{"e":-6,"s":16,"v":305},{"e":-5,"s":16,"v":305},{"e":-4,"s":16,"v":85},{"e":-3,"s":16,"v":465},{"e":-2,"s":16,"v":200},{"e":-1,"s":16,"v":200},{"e":1,"s":16,"v":200},{"e":2,"s":16,"v":305},{"e":3,"s":16,"v":305},{"e":4,"s":16,"v":200},{"e":5,"s":16,"v":305},{"e":6,"s":16,"v":465},
{"e":-6,"s":15,"v":85},{"e":-5,"s":15,"v":305},{"e":-4,"s":15,"v":705},{"e":-3,"s":15,"v":56},{"e":-2,"s":15,"v":56},{"e":-1,"s":15,"v":465},{"e":1,"s":15,"v":37},{"e":2,"s":15,"v":56},{"e":3,"s":15,"v":200},{"e":4,"s":15,"v":200},{"e":5,"s":15,"v":465},{"e":6,"s":15,"v":200},
{"e":-6,"s":14,"v":705},{"e":-5,"s":14,"v":465},{"e":-4,"s":14,"v":200},{"e":-3,"s":14,"v":200},{"e":-2,"s":14,"v":200},{"e":-1,"s":14,"v":200},{"e":1,"s":14,"v":305},{"e":2,"s":14,"v":200},{"e":3,"s":14,"v":200},{"e":4,"s":14,"v":200},{"e":5,"s":14,"v":305},{"e":6,"s":14,"v":305},
{"e":-6,"s":13,"v":200},{"e":-5,"s":13,"v":85},{"e":-4,"s":13,"v":85},{"e":-3,"s":13,"v":85},{"e":-2,"s":13,"v":200},{"e":-1,"s":13,"v":305},{"e":1,"s":13,"v":200},{"e":2,"s":13,"v":305},{"e":3,"s":13,"v":130},{"e":4,"s":13,"v":56},{"e":5,"s":13,"v":130},{"e":6,"s":13,"v":465},
{"e":-6,"s":12,"v":305},{"e":-5,"s":12,"v":130},{"e":-4,"s":12,"v":130},{"e":-3,"s":12,"v":130},{"e":-2,"s":12,"v":305},{"e":-1,"s":12,"v":305},{"e":1,"s":12,"v":305},{"e":2,"s":12,"v":200},{"e":3,"s":12,"v":200},{"e":4,"s":12,"v":200},{"e":5,"s":12,"v":200},{"e":6,"s":12,"v":200},
{"e":-6,"s":11,"v":200},{"e":-5,"s":11,"v":200},{"e":-4,"s":11,"v":200},{"e":-3,"s":11,"v":200},{"e":-2,"s":11,"v":705},{"e":-1,"s":11,"v":200},{"e":1,"s":11,"v":200},{"e":2,"s":11,"v":305},{"e":3,"s":11,"v":200},{"e":4,"s":11,"v":130},{"e":5,"s":11,"v":200},{"e":6,"s":11,"v":85},
{"e":-6,"s":10,"v":130},{"e":-5,"s":10,"v":200},{"e":-4,"s":10,"v":705},{"e":-3,"s":10,"v":200},{"e":-2,"s":10,"v":200},{"e":-1,"s":10,"v":200},{"e":1,"s":10,"v":705},{"e":2,"s":10,"v":305},{"e":3,"s":10,"v":465},{"e":4,"s":10,"v":200},{"e":5,"s":10,"v":465},{"e":6,"s":10,"v":200},
{"e":-6,"s":9,"v":85},{"e":-5,"s":9,"v":85},{"e":-4,"s":9,"v":465},{"e":-3,"s":9,"v":85},{"e":-2,"s":9,"v":200},{"e":-1,"s":9,"v":85},{"e":1,"s":9,"v":85},{"e":2,"s":9,"v":85},{"e":3,"s":9,"v":130},{"e":4,"s":9,"v":305},{"e":5,"s":9,"v":130},{"e":6,"s":9,"v":465},
{"e":-6,"s":8,"v":200},{"e":-5,"s":8,"v":37},{"e":-4,"s":8,"v":200},{"e":-3,"s":8,"v":465},{"e":-2,"s":8,"v":305},{"e":-1,"s":8,"v":305},{"e":1,"s":8,"v":305},{"e":2,"s":8,"v":305},{"e":3,"s":8,"v":305},{"e":4,"s":8,"v":305},{"e":5,"s":8,"v":130},{"e":6,"s":8,"v":37},
{"e":-6,"s":7,"v":200},{"e":-5,"s":7,"v":200},{"e":-4,"s":7,"v":305},{"e":-3,"s":7,"v":200},{"e":-2,"s":7,"v":200},{"e":-1,"s":7,"v":465},{"e":1,"s":7,"v":305},{"e":2,"s":7,"v":305},{"e":3,"s":7,"v":305},{"e":4,"s":7,"v":465},{"e":5,"s":7,"v":200},{"e":6,"s":7,"v":85},
{"e":-6,"s":6,"v":465},{"e":-5,"s":6,"v":85},{"e":-4,"s":6,"v":130},{"e":-3,"s":6,"v":305},{"e":-2,"s":6,"v":2500},{"e":-1,"s":6,"v":465},{"e":1,"s":6,"v":305},{"e":2,"s":6,"v":56},{"e":3,"s":6,"v":465},{"e":4,"s":6,"v":130},{"e":5,"s":6,"v":465},{"e":6,"s":6,"v":130},
{"e":-6,"s":5,"v":305},{"e":-5,"s":5,"v":305},{"e":-4,"s":5,"v":56},{"e":-3,"s":5,"v":305},{"e":-2,"s":5,"v":305},{"e":-1,"s":5,"v":465},{"e":1,"s":5,"v":465},{"e":2,"s":5,"v":200},{"e":3,"s":5,"v":200},{"e":4,"s":5,"v":85},{"e":5,"s":5,"v":56},{"e":6,"s":5,"v":85},
{"e":-6,"s":4,"v":465},{"e":-5,"s":4,"v":200},{"e":-4,"s":4,"v":200},{"e":-3,"s":4,"v":200},{"e":-2,"s":4,"v":305},{"e":-1,"s":4,"v":200},{"e":1,"s":4,"v":465},{"e":2,"s":4,"v":85},{"e":3,"s":4,"v":305},{"e":4,"s":4,"v":85},{"e":5,"s":4,"v":305},{"e":6,"s":4,"v":85},
{"e":-6,"s":3,"v":305},{"e":-5,"s":3,"v":200},{"e":-4,"s":3,"v":200},{"e":-3,"s":3,"v":305},{"e":-2,"s":3,"v":705},{"e":-1,"s":3,"v":705},{"e":1,"s":3,"v":85},{"e":2,"s":3,"v":85},{"e":3,"s":3,"v":705},{"e":4,"s":3,"v":85},{"e":5,"s":3,"v":465},{"e":6,"s":3,"v":85},
{"e":-6,"s":2,"v":130},{"e":-5,"s":2,"v":305},{"e":-4,"s":2,"v":85},{"e":-3,"s":2,"v":705},{"e":-2,"s":2,"v":305},{"e":-1,"s":2,"v":85},{"e":1,"s":2,"v":130},{"e":2,"s":2,"v":200},{"e":3,"s":2,"v":130},{"e":4,"s":2,"v":200},{"e":5,"s":2,"v":1080},{"e":6,"s":2,"v":130},
{"e":-6,"s":1,"v":200},{"e":-5,"s":1,"v":465},{"e":-4,"s":1,"v":200},{"e":-3,"s":1,"v":705},{"e":-2,"s":1,"v":200},{"e":-1,"s":1,"v":85},{"e":1,"s":1,"v":305},{"e":2,"s":1,"v":465},{"e":3,"s":1,"v":200},{"e":4,"s":1,"v":85},{"e":5,"s":1,"v":465},{"e":6,"s":1,"v":130},
{"e":-6,"s":0,"v":305},{"e":-5,"s":0,"v":465},{"e":-4,"s":0,"v":305},{"e":-3,"s":0,"v":705},{"e":-2,"s":0,"v":200},{"e":-1,"s":0,"v":85},{"e":1,"s":0,"v":1080},{"e":2,"s":0,"v":85},{"e":3,"s":0,"v":56},{"e":4,"s":0,"v":56},{"e":5,"s":0,"v":200},{"e":6,"s":0,"v":200}],
"l3":[
{"e":-6,"s":55,"v":305},{"e":-5,"s":55,"v":85},{"e":-4,"s":55,"v":37},{"e":-3,"s":55,"v":37},{"e":-2,"s":55,"v":200},{"e":-1,"s":55,"v":200},{"e":1,"s":55,"v":85},{"e":2,"s":55,"v":200},{"e":3,"s":55,"v":130},{"e":4,"s":55,"v":200},{"e":5,"s":55,"v":200},{"e":6,"s":55,"v":705},
{"e":-6,"s":54,"v":2500},{"e":-5,"s":54,"v":200},{"e":-4,"s":54,"v":200},{"e":-3,"s":54,"v":200},{"e":-2,"s":54,"v":200},{"e":-1,"s":54,"v":200},{"e":1,"s":54,"v":200},{"e":2,"s":54,"v":200},{"e":3,"s":54,"v":200},{"e":4,"s":54,"v":37},{"e":5,"s":54,"v":16},{"e":6,"s":54,"v":200},
{"e":-6,"s":53,"v":37},{"e":-5,"s":53,"v":200},{"e":-4,"s":53,"v":85},{"e":-3,"s":53,"v":305},{"e":-2,"s":53,"v":200},{"e":-1,"s":53,"v":200},{"e":1,"s":53,"v":200},{"e":2,"s":53,"v":465},{"e":3,"s":53,"v":200},{"e":4,"s":53,"v":85},{"e":5,"s":53,"v":56},{"e":6,"s":53,"v":200},
{"e":-6,"s":52,"v":465},{"e":-5,"s":52,"v":200},{"e":-4,"s":52,"v":305},{"e":-3,"s":52,"v":305},{"e":-2,"s":52,"v":200},{"e":-1,"s":52,"v":305},{"e":1,"s":52,"v":200},{"e":2,"s":52,"v":465},{"e":3,"s":52,"v":305},{"e":4,"s":52,"v":85},{"e":5,"s":52,"v":85},{"e":6,"s":52,"v":200},
{"e":-6,"s":51,"v":200},{"e":-5,"s":51,"v":465},{"e":-4,"s":51,"v":200},{"e":-3,"s":51,"v":305},{"e":-2,"s":51,"v":200},{"e":-1,"s":51,"v":200},{"e":1,"s":51,"v":465},{"e":2,"s":51,"v":85},{"e":3,"s":51,"v":465},{"e":4,"s":51,"v":85},{"e":5,"s":51,"v":56},{"e":6,"s":51,"v":465},
{"e":-6,"s":50,"v":85},{"e":-5,"s":50,"v":56},{"e":-4,"s":50,"v":85},{"e":-3,"s":50,"v":37},{"e":-2,"s":50,"v":130},{"e":-1,"s":50,"v":85},{"e":1,"s":50,"v":465},{"e":2,"s":50,"v":200},{"e":3,"s":50,"v":465},{"e":4,"s":50,"v":130},{"e":5,"s":50,"v":37},{"e":6,"s":50,"v":305},
{"e":-6,"s":49,"v":130},{"e":-5,"s":49,"v":85},{"e":-4,"s":49,"v":200},{"e":-3,"s":49,"v":85},{"e":-2,"s":49,"v":85},{"e":-1,"s":49,"v":85},{"e":1,"s":49,"v":465},{"e":2,"s":49,"v":465},{"e":3,"s":49,"v":465},{"e":4,"s":49,"v":465},{"e":5,"s":49,"v":465},{"e":6,"s":49,"v":465},
{"e":-6,"s":48,"v":465},{"e":-5,"s":48,"v":200},{"e":-4,"s":48,"v":305},{"e":-3,"s":48,"v":200},{"e":-2,"s":48,"v":130},{"e":-1,"s":48,"v":200},{"e":1,"s":48,"v":465},{"e":2,"s":48,"v":1650},{"e":3,"s":48,"v":200},{"e":4,"s":48,"v":200},{"e":5,"s":48,"v":465},{"e":6,"s":48,"v":200},
{"e":-6,"s":47,"v":200},{"e":-5,"s":47,"v":56},{"e":-4,"s":47,"v":305},{"e":-3,"s":47,"v":130},{"e":-2,"s":47,"v":130},{"e":-1,"s":47,"v":130},{"e":1,"s":47,"v":37},{"e":2,"s":47,"v":85},{"e":3,"s":47,"v":130},{"e":4,"s":47,"v":465},{"e":5,"s":47,"v":465},{"e":6,"s":47,"v":305},
{"e":-6,"s":46,"v":200},{"e":-5,"s":46,"v":465},{"e":-4,"s":46,"v":305},{"e":-3,"s":46,"v":200},{"e":-2,"s":46,"v":465},{"e":-1,"s":46,"v":85},{"e":1,"s":46,"v":130},{"e":2,"s":46,"v":56},{"e":3,"s":46,"v":85},{"e":4,"s":46,"v":465},{"e":5,"s":46,"v":465},{"e":6,"s":46,"v":200},
{"e":-6,"s":45,"v":200},{"e":-5,"s":45,"v":200},{"e":-4,"s":45,"v":305},{"e":-3,"s":45,"v":200},{"e":-2,"s":45,"v":85},{"e":-1,"s":45,"v":85},{"e":1,"s":45,"v":130},{"e":2,"s":45,"v":305},{"e":3,"s":45,"v":705},{"e":4,"s":45,"v":465},{"e":5,"s":45,"v":465},{"e":6,"s":45,"v":200},
{"e":-6,"s":44,"v":130},{"e":-5,"s":44,"v":200},{"e":-4,"s":44,"v":200},{"e":-3,"s":44,"v":85},{"e":-2,"s":44,"v":200},{"e":-1,"s":44,"v":85},{"e":1,"s":44,"v":200},{"e":2,"s":44,"v":200},{"e":3,"s":44,"v":200},{"e":4,"s":44,"v":200},{"e":5,"s":44,"v":85},{"e":6,"s":44,"v":85},
{"e":-6,"s":43,"v":200},{"e":-5,"s":43,"v":465},{"e":-4,"s":43,"v":1080},{"e":-3,"s":43,"v":305},{"e":-2,"s":43,"v":200},{"e":-1,"s":43,"v":465},{"e":1,"s":43,"v":200},{"e":2,"s":43,"v":85},{"e":3,"s":43,"v":305},{"e":4,"s":43,"v":2500},{"e":5,"s":43,"v":305},{"e":6,"s":43,"v":200},
{"e":-6,"s":42,"v":85},{"e":-5,"s":42,"v":305},{"e":-4,"s":42,"v":465},{"e":-3,"s":42,"v":465},{"e":-2,"s":42,"v":200},{"e":-1,"s":42,"v":465},{"e":1,"s":42,"v":705},{"e":2,"s":42,"v":56},{"e":3,"s":42,"v":200},{"e":4,"s":42,"v":465},{"e":5,"s":42,"v":130},{"e":6,"s":42,"v":305},
{"e":-6,"s":41,"v":200},{"e":-5,"s":41,"v":85},{"e":-4,"s":41,"v":1080},{"e":-3,"s":41,"v":200},{"e":-2,"s":41,"v":465},{"e":-1,"s":41,"v":465},{"e":1,"s":41,"v":200},{"e":2,"s":41,"v":200},{"e":3,"s":41,"v":56},{"e":4,"s":41,"v":465},{"e":5,"s":41,"v":85},{"e":6,"s":41,"v":305},
{"e":-6,"s":40,"v":305},{"e":-5,"s":40,"v":200},{"e":-4,"s":40,"v":305},{"e":-3,"s":40,"v":200},{"e":-2,"s":40,"v":465},{"e":-1,"s":40,"v":465},{"e":1,"s":40,"v":200},{"e":2,"s":40,"v":465},{"e":3,"s":40,"v":56},{"e":4,"s":40,"v":465},{"e":5,"s":40,"v":200},{"e":6,"s":40,"v":200},
{"e":-6,"s":39,"v":200},{"e":-5,"s":39,"v":130},{"e":-4,"s":39,"v":465},{"e":-3,"s":39,"v":130},{"e":-2,"s":39,"v":305},{"e":-1,"s":39,"v":465},{"e":1,"s":39,"v":465},{"e":2,"s":39,"v":85},{"e":3,"s":39,"v":200},{"e":4,"s":39,"v":465},{"e":5,"s":39,"v":200},{"e":6,"s":39,"v":200},
{"e":-6,"s":38,"v":200},{"e":-5,"s":38,"v":200},{"e":-4,"s":38,"v":465},{"e":-3,"s":38,"v":130},{"e":-2,"s":38,"v":200},{"e":-1,"s":38,"v":200},{"e":2,"s":38,"v":85},{"e":3,"s":38,"v":200},{"e":4,"s":38,"v":305},{"e":5,"s":38,"v":465},{"e":6,"s":38,"v":1650},
{"e":-6,"s":37,"v":465},{"e":-5,"s":37,"v":465},{"e":-4,"s":37,"v":305},{"e":-3,"s":37,"v":705},{"e":-2,"s":37,"v":200},{"e":-1,"s":37,"v":465},{"e":1,"s":37,"v":465},{"e":2,"s":37,"v":130},{"e":3,"s":37,"v":85},{"e":4,"s":37,"v":130},{"e":5,"s":37,"v":130},{"e":6,"s":37,"v":56},
{"e":-6,"s":36,"v":200},{"e":-5,"s":36,"v":200},{"e":-4,"s":36,"v":200},{"e":-3,"s":36,"v":465},{"e":-2,"s":36,"v":305},{"e":-1,"s":36,"v":305},{"e":1,"s":36,"v":200},{"e":2,"s":36,"v":130},{"e":3,"s":36,"v":85},{"e":4,"s":36,"v":305},{"e":5,"s":36,"v":200},{"e":6,"s":36,"v":200},
{"e":-6,"s":35,"v":200},{"e":-5,"s":35,"v":705},{"e":-4,"s":35,"v":200},{"e":-3,"s":35,"v":465},{"e":-2,"s":35,"v":465},{"e":-1,"s":35,"v":305},{"e":1,"s":35,"v":85},{"e":2,"s":35,"v":200},{"e":3,"s":35,"v":85},{"e":4,"s":35,"v":305},{"e":5,"s":35,"v":705},{"e":6,"s":35,"v":200},
{"e":-6,"s":34,"v":305},{"e":-5,"s":34,"v":465},{"e":-4,"s":34,"v":200},{"e":-3,"s":34,"v":465},{"e":-2,"s":34,"v":200},{"e":-1,"s":34,"v":200},{"e":1,"s":34,"v":200},{"e":2,"s":34,"v":465},{"e":3,"s":34,"v":465},{"e":4,"s":34,"v":465},{"e":5,"s":34,"v":705},{"e":6,"s":34,"v":200},
{"e":-6,"s":33,"v":305},{"e":-5,"s":33,"v":465},{"e":-4,"s":33,"v":200},{"e":-3,"s":33,"v":465},{"e":-2,"s":33,"v":1080},{"e":-1,"s":33,"v":1080},{"e":1,"s":33,"v":200},{"e":2,"s":33,"v":200},{"e":3,"s":33,"v":200},{"e":4,"s":33,"v":130},{"e":5,"s":33,"v":130},{"e":6,"s":33,"v":200},
{"e":-6,"s":32,"v":200},{"e":-5,"s":32,"v":465},{"e":-4,"s":32,"v":85},{"e":-3,"s":32,"v":130},{"e":-2,"s":32,"v":130},{"e":-1,"s":32,"v":200},{"e":1,"s":32,"v":37},{"e":2,"s":32,"v":200},{"e":3,"s":32,"v":465},{"e":4,"s":32,"v":85},{"e":5,"s":32,"v":85},{"e":6,"s":32,"v":130},
{"e":-6,"s":31,"v":56},{"e":-5,"s":31,"v":130},{"e":-4,"s":31,"v":85},{"e":-3,"s":31,"v":85},{"e":-2,"s":31,"v":85},{"e":-1,"s":31,"v":200},{"e":1,"s":31,"v":130},{"e":2,"s":31,"v":200},{"e":3,"s":31,"v":200},{"e":4,"s":31,"v":465},{"e":5,"s":31,"v":85},{"e":6,"s":31,"v":200},
{"e":-6,"s":30,"v":200},{"e":-5,"s":30,"v":1080},{"e":-4,"s":30,"v":130},{"e":-3,"s":30,"v":305},{"e":-2,"s":30,"v":305},{"e":-1,"s":30,"v":200},{"e":1,"s":30,"v":130},{"e":2,"s":30,"v":465},{"e":3,"s":30,"v":465},{"e":4,"s":30,"v":200},{"e":5,"s":30,"v":85},{"e":6,"s":30,"v":705},
{"e":-6,"s":29,"v":85},{"e":-5,"s":29,"v":200},{"e":-4,"s":29,"v":200},{"e":-3,"s":29,"v":305},{"e":-2,"s":29,"v":465},{"e":-1,"s":29,"v":200},{"e":1,"s":29,"v":200},{"e":2,"s":29,"v":465},{"e":3,"s":29,"v":305},{"e":4,"s":29,"v":85},{"e":5,"s":29,"v":85},{"e":6,"s":29,"v":305},
{"e":-6,"s":28,"v":705},{"e":-5,"s":28,"v":200},{"e":-4,"s":28,"v":130},{"e":-3,"s":28,"v":305},{"e":-2,"s":28,"v":85},{"e":-1,"s":28,"v":85},{"e":1,"s":28,"v":130},{"e":2,"s":28,"v":200},{"e":3,"s":28,"v":200},{"e":4,"s":28,"v":130},{"e":5,"s":28,"v":200},{"e":6,"s":28,"v":200},
{"e":-6,"s":27,"v":85},{"e":-5,"s":27,"v":200},{"e":-4,"s":27,"v":465},{"e":-3,"s":27,"v":85},{"e":-2,"s":27,"v":85},{"e":-1,"s":27,"v":56},{"e":1,"s":27,"v":130},{"e":2,"s":27,"v":56},{"e":3,"s":27,"v":200},{"e":4,"s":27,"v":85},{"e":5,"s":27,"v":200},{"e":6,"s":27,"v":200},
{"e":-6,"s":26,"v":200},{"e":-5,"s":26,"v":85},{"e":-4,"s":26,"v":85},{"e":-3,"s":26,"v":130},{"e":-2,"s":26,"v":200},{"e":-1,"s":26,"v":200},{"e":1,"s":26,"v":37},{"e":2,"s":26,"v":85},{"e":3,"s":26,"v":200},{"e":4,"s":26,"v":2500},{"e":5,"s":26,"v":85},{"e":6,"s":26,"v":200},
{"e":-6,"s":25,"v":130},{"e":-5,"s":25,"v":130},{"e":-4,"s":25,"v":56},{"e":-3,"s":25,"v":130},{"e":-2,"s":25,"v":200},{"e":-1,"s":25,"v":465},{"e":1,"s":25,"v":56},{"e":2,"s":25,"v":705},{"e":3,"s":25,"v":200},{"e":4,"s":25,"v":85},{"e":5,"s":25,"v":465},{"e":6,"s":25,"v":200},
{"e":-6,"s":24,"v":37},{"e":-5,"s":24,"v":200},{"e":-4,"s":24,"v":200},{"e":-3,"s":24,"v":85},{"e":-2,"s":24,"v":200},{"e":-1,"s":24,"v":200},{"e":1,"s":24,"v":130},{"e":2,"s":24,"v":130},{"e":3,"s":24,"v":200},{"e":4,"s":24,"v":85},{"e":5,"s":24,"v":200},{"e":6,"s":24,"v":85},
{"e":-6,"s":23,"v":200},{"e":-5,"s":23,"v":200},{"e":-4,"s":23,"v":200},{"e":-3,"s":23,"v":200},{"e":-2,"s":23,"v":56},{"e":-1,"s":23,"v":465},{"e":1,"s":23,"v":305},{"e":2,"s":23,"v":130},{"e":3,"s":23,"v":130},{"e":4,"s":23,"v":85},{"e":5,"s":23,"v":200},{"e":6,"s":23,"v":200},
{"e":-6,"s":22,"v":200},{"e":-5,"s":22,"v":130},{"e":-4,"s":22,"v":200},{"e":-3,"s":22,"v":200},{"e":-2,"s":22,"v":85},{"e":-1,"s":22,"v":305},{"e":1,"s":22,"v":200},{"e":2,"s":22,"v":200},{"e":3,"s":22,"v":465},{"e":4,"s":22,"v":130},{"e":5,"s":22,"v":200},{"e":6,"s":22,"v":200},
{"e":-6,"s":21,"v":200},{"e":-5,"s":21,"v":200},{"e":-4,"s":21,"v":130},{"e":-3,"s":21,"v":130},{"e":-2,"s":21,"v":85},{"e":-1,"s":21,"v":305},{"e":1,"s":21,"v":200},{"e":2,"s":21,"v":305},{"e":3,"s":21,"v":465},{"e":4,"s":21,"v":705},{"e":5,"s":21,"v":465},{"e":6,"s":21,"v":200},
{"e":-6,"s":20,"v":85},{"e":-5,"s":20,"v":130},{"e":-4,"s":20,"v":85},{"e":-3,"s":20,"v":465},{"e":-2,"s":20,"v":200},{"e":-1,"s":20,"v":305},{"e":1,"s":20,"v":37},{"e":2,"s":20,"v":56},{"e":3,"s":20,"v":85},{"e":4,"s":20,"v":85},{"e":5,"s":20,"v":305},{"e":6,"s":20,"v":130},
{"e":-6,"s":19,"v":200},{"e":-5,"s":19,"v":85},{"e":-4,"s":19,"v":85},{"e":-3,"s":19,"v":130},{"e":-2,"s":19,"v":56},{"e":-1,"s":19,"v":85},{"e":1,"s":19,"v":37},{"e":2,"s":19,"v":130},{"e":3,"s":19,"v":85},{"e":4,"s":19,"v":85},{"e":5,"s":19,"v":200},{"e":6,"s":19,"v":56},
{"e":-6,"s":18,"v":130},{"e":-5,"s":18,"v":200},{"e":-4,"s":18,"v":130},{"e":-3,"s":18,"v":56},{"e":-2,"s":18,"v":305},{"e":-1,"s":18,"v":130},{"e":1,"s":18,"v":85},{"e":2,"s":18,"v":85},{"e":3,"s":18,"v":130},{"e":4,"s":18,"v":130},{"e":5,"s":18,"v":200},{"e":6,"s":18,"v":85},
{"e":-6,"s":17,"v":200},{"e":-5,"s":17,"v":200},{"e":-4,"s":17,"v":200},{"e":-3,"s":17,"v":465},{"e":-2,"s":17,"v":705},{"e":-1,"s":17,"v":85},{"e":1,"s":17,"v":200},{"e":2,"s":17,"v":465},{"e":3,"s":17,"v":465},{"e":4,"s":17,"v":465},{"e":5,"s":17,"v":465},{"e":6,"s":17,"v":465},
{"e":-6,"s":16,"v":130},{"e":-5,"s":16,"v":465},{"e":-4,"s":16,"v":130},{"e":-3,"s":16,"v":85},{"e":-2,"s":16,"v":705},{"e":-1,"s":16,"v":130},{"e":1,"s":16,"v":200},{"e":2,"s":16,"v":200},{"e":3,"s":16,"v":200},{"e":4,"s":16,"v":200},{"e":5,"s":16,"v":200},{"e":6,"s":16,"v":85},
{"e":-6,"s":15,"v":200},{"e":-5,"s":15,"v":465},{"e":-4,"s":15,"v":200},{"e":-3,"s":15,"v":130},{"e":-2,"s":15,"v":465},{"e":-1,"s":15,"v":56},{"e":1,"s":15,"v":130},{"e":2,"s":15,"v":200},{"e":3,"s":15,"v":200},{"e":4,"s":15,"v":200},{"e":5,"s":15,"v":705},{"e":6,"s":15,"v":24},
{"e":-6,"s":14,"v":85},{"e":-5,"s":14,"v":465},{"e":-4,"s":14,"v":56},{"e":-3,"s":14,"v":130},{"e":-2,"s":14,"v":305},{"e":-1,"s":14,"v":37},{"e":1,"s":14,"v":465},{"e":2,"s":14,"v":2500},{"e":3,"s":14,"v":200},{"e":4,"s":14,"v":200},{"e":5,"s":14,"v":465},{"e":6,"s":14,"v":130},
{"e":-6,"s":13,"v":85},{"e":-5,"s":13,"v":465},{"e":-4,"s":13,"v":705},{"e":-3,"s":13,"v":705},{"e":-2,"s":13,"v":130},{"e":-1,"s":13,"v":7},{"e":1,"s":13,"v":85},{"e":2,"s":13,"v":200},{"e":3,"s":13,"v":200},{"e":4,"s":13,"v":465},{"e":5,"s":13,"v":85},{"e":6,"s":13,"v":200},
{"e":-6,"s":12,"v":85},{"e":-5,"s":12,"v":705},{"e":-4,"s":12,"v":200},{"e":-3,"s":12,"v":130},{"e":-2,"s":12,"v":200},{"e":-1,"s":12,"v":130},{"e":1,"s":12,"v":200},{"e":2,"s":12,"v":305},{"e":3,"s":12,"v":465},{"e":4,"s":12,"v":56},{"e":5,"s":12,"v":200},{"e":6,"s":12,"v":705},
{"e":-6,"s":11,"v":465},{"e":-5,"s":11,"v":200},{"e":-4,"s":11,"v":200},{"e":-3,"s":11,"v":465},{"e":-2,"s":11,"v":85},{"e":-1,"s":11,"v":85},{"e":1,"s":11,"v":37},{"e":2,"s":11,"v":465},{"e":3,"s":11,"v":200},{"e":4,"s":11,"v":200},{"e":5,"s":11,"v":465},{"e":6,"s":11,"v":465},
{"e":-6,"s":10,"v":200},{"e":-5,"s":10,"v":705},{"e":-4,"s":10,"v":85},{"e":-3,"s":10,"v":465},{"e":-2,"s":10,"v":85},{"e":-1,"s":10,"v":85},{"e":1,"s":10,"v":37},{"e":2,"s":10,"v":465},{"e":3,"s":10,"v":85},{"e":4,"s":10,"v":200},{"e":5,"s":10,"v":465},{"e":6,"s":10,"v":56},
{"e":-6,"s":9,"v":130},{"e":-5,"s":9,"v":465},{"e":-4,"s":9,"v":465},{"e":-3,"s":9,"v":465},{"e":-2,"s":9,"v":56},{"e":-1,"s":9,"v":130},{"e":1,"s":9,"v":200},{"e":2,"s":9,"v":37},{"e":3,"s":9,"v":200},{"e":4,"s":9,"v":200},{"e":5,"s":9,"v":200},{"e":6,"s":9,"v":200},
{"e":-6,"s":8,"v":200},{"e":-5,"s":8,"v":200},{"e":-4,"s":8,"v":200},{"e":-3,"s":8,"v":465},{"e":-2,"s":8,"v":200},{"e":-1,"s":8,"v":130},{"e":2,"s":8,"v":85},{"e":3,"s":8,"v":200},{"e":4,"s":8,"v":200},{"e":5,"s":8,"v":200},{"e":6,"s":8,"v":200},
{"e":-6,"s":7,"v":305},{"e":-5,"s":7,"v":465},{"e":-4,"s":7,"v":130},{"e":-3,"s":7,"v":85},{"e":-2,"s":7,"v":200},{"e":-1,"s":7,"v":200},{"e":1,"s":7,"v":130},{"e":2,"s":7,"v":85},{"e":3,"s":7,"v":130},{"e":4,"s":7,"v":130},{"e":5,"s":7,"v":85},{"e":6,"s":7,"v":130},
{"e":-6,"s":6,"v":16},{"e":-5,"s":6,"v":465},{"e":-4,"s":6,"v":305},{"e":-3,"s":6,"v":200},{"e":-2,"s":6,"v":37},{"e":-1,"s":6,"v":200},{"e":1,"s":6,"v":705},{"e":2,"s":6,"v":705},{"e":3,"s":6,"v":705},{"e":4,"s":6,"v":1080},{"e":5,"s":6,"v":705},{"e":6,"s":6,"v":465},
{"e":-6,"s":5,"v":705},{"e":-5,"s":5,"v":465},{"e":-4,"s":5,"v":1080},{"e":-3,"s":5,"v":705},{"e":-2,"s":5,"v":200},{"e":-1,"s":5,"v":200},{"e":1,"s":5,"v":85},{"e":2,"s":5,"v":85},{"e":3,"s":5,"v":85},{"e":4,"s":5,"v":85},{"e":5,"s":5,"v":56},{"e":6,"s":5,"v":200},
{"e":-6,"s":4,"v":200},{"e":-5,"s":4,"v":465},{"e":-4,"s":4,"v":305},{"e":-3,"s":4,"v":705},{"e":-2,"s":4,"v":200},{"e":-1,"s":4,"v":85},{"e":1,"s":4,"v":85},{"e":2,"s":4,"v":305},{"e":3,"s":4,"v":465},{"e":4,"s":4,"v":200},{"e":5,"s":4,"v":200},{"e":6,"s":4,"v":200},
{"e":-6,"s":3,"v":705},{"e":-5,"s":3,"v":85},{"e":-4,"s":3,"v":465},{"e":-3,"s":3,"v":1080},{"e":-2,"s":3,"v":200},{"e":-1,"s":3,"v":130},{"e":1,"s":3,"v":2500},{"e":2,"s":3,"v":200},{"e":3,"s":3,"v":305},{"e":4,"s":3,"v":200},{"e":5,"s":3,"v":200},{"e":6,"s":3,"v":1080},
{"e":-6,"s":2,"v":2500},{"e":-5,"s":2,"v":2500},{"e":-4,"s":2,"v":85},{"e":-3,"s":2,"v":85},{"e":-2,"s":2,"v":305},{"e":-1,"s":2,"v":200},{"e":1,"s":2,"v":200},{"e":2,"s":2,"v":200},{"e":3,"s":2,"v":465},{"e":4,"s":2,"v":200},{"e":5,"s":2,"v":465},{"e":6,"s":2,"v":130},
{"e":-6,"s":1,"v":465},{"e":-5,"s":1,"v":465},{"e":-4,"s":1,"v":705},{"e":-3,"s":1,"v":705},{"e":-2,"s":1,"v":705},{"e":-1,"s":1,"v":1080},{"e":1,"s":1,"v":200},{"e":2,"s":1,"v":37},{"e":3,"s":1,"v":1080},{"e":4,"s":1,"v":465},{"e":5,"s":1,"v":200},{"e":6,"s":1,"v":705},
{"e":-6,"s":0,"v":85},{"e":-5,"s":0,"v":85},{"e":-4,"s":0,"v":200},{"e":-3,"s":0,"v":85},{"e":-2,"s":0,"v":85},{"e":-1,"s":0,"v":85},{"e":1,"s":0,"v":200},{"e":2,"s":0,"v":85},{"e":3,"s":0,"v":200},{"e":4,"s":0,"v":85},{"e":5,"s":0,"v":200},{"e":6,"s":0,"v":465}]
},
"vconcat":[{"hconcat":[
{"align":"none","vconcat":[{"width":185,"height":15,"view":{"stroke":"#777","strokeWidth":2},"data":{"values":[{"t":"SCT rdo hitmap_layer0"}]},"mark":{"type":"text","fontWeight":"bold","fontSize":12.5,"font":"Liberation Sans"},"encoding":{"text":{"field":"t"}}},{"hconcat":[{"width":2,"height":212,"view":{"stroke":null},"data":{"values":[]},"mark":"rect","encoding":{}},{"width":294,"height":212,"data":{"name":"l0"},"mark":{"type":"rect","width":22.9,"height":6.9},"encoding":{"x":{"field":"e","type":"quantitative","scale":{"domain":[-6.5,6.5],"nice":false,"zero":false},"axis":{"values":[-6.5,-6,-5.5,-5,-4.5,-4,-3.5,-3,-2.5,-2,-1.5,-1,-0.5,0,0.5,1,1.5,2,2.5,3,3.5,4,4.5,5,5.5,6,6.5],"tickSize":{"condition":{"test":"datum.value%2==0","value":-6},"value":-3},"labelExpr":"datum.value%2==0?''+datum.value:''","title":"η ring","titleAnchor":"end","titlePadding":-3,"labelPadding":8}},"y":{"field":"s","type":"quantitative","scale":{"domain":[-0.5,31.5],"nice":false,"zero":false},"axis":{"values":[0,1,2,3,4,5,6,7,8,9,10,11,12,13,14,15,16,17,18,19,20,21,22,23,24,25,26,27,28,29,30,31],"tickSize":{"condition":{"test":"datum.value%5==0","value":-6},"value":-3},"labelExpr":"datum.value%5==0?''+datum.value:''","title":"φ sector","titleAnchor":"end","titlePadding":3,"labelPadding":9}},"color":{"field":"v","type":"quantitative","legend":null,"scale":{"type":"threshold","domain":[1.53,2.33,3.56,5.4,8.3,12.7,19.4,29.6,45,69,105,161,245,375,570,870,1330,2030,3100],"range":["#7000ff","#3a00ff","#0000ff","#0044ff","#0088ff","#00bbff","#00ffff","#00ffc0","#00ff80","#00ff40","#00ff00","#33ff00","#70ff00","#aaff00","#e6ff00","#ffe000","#ffa000","#ff7000","#ff3300","#ff0000"]}}}},{"width":17,"height":212,"data":{"name":"c"},"mark":"rect","encoding":{"y":{"field":"lo","type":"quantitative","scale":{"type":"log","domain":[1,4786],"nice":false},"axis":{"orient":"right","values":[1,2,3,4,5,6,7,8,9,10,20,30,40,50,60,70,80,90,100,200,300,400,500,600,700,800,900,1000,2000,3000,4000],"tickSize":{"condition":{"test":"datum.value==1||datum.value==10||datum.value==100||datum.value==1000","value":-8},"value":-4},"labelExpr":"datum.value==1?'1':datum.value==10?'10':datum.value==100?'10²':datum.value==1000?'10³':''","title":null,"labelPadding":11,"labelFontSize":12}},"y2":{"field":"hi"},"color":{"field":"lo","type":"quantitative","legend":null,"scale":{"type":"threshold","domain":[1.53,2.33,3.56,5.4,8.3,12.7,19.4,29.6,45,69,105,161,245,375,570,870,1330,2030,3100],"range":["#7000ff","#3a00ff","#0000ff","#0044ff","#0088ff","#00bbff","#00ffff","#00ffc0","#00ff80","#00ff40","#00ff00","#33ff00","#70ff00","#aaff00","#e6ff00","#ffe000","#ffa000","#ff7000","#ff3300","#ff0000"]}}}}],"spacing":0}],"spacing":5},
{"align":"none","vconcat":[{"width":185,"height":15,"view":{"stroke":"#777","strokeWidth":2},"data":{"values":[{"t":"SCT rdo hitmap_layer1"}]},"mark":{"type":"text","fontWeight":"bold","fontSize":12.5,"font":"Liberation Sans"},"encoding":{"text":{"field":"t"}}},{"hconcat":[{"width":2,"height":212,"view":{"stroke":null},"data":{"values":[]},"mark":"rect","encoding":{}},{"width":294,"height":212,"data":{"name":"l1"},"mark":{"type":"rect","width":22.9,"height":5.6},"encoding":{"x":{"field":"e","type":"quantitative","scale":{"domain":[-6.5,6.5],"nice":false,"zero":false},"axis":{"values":[-6.5,-6,-5.5,-5,-4.5,-4,-3.5,-3,-2.5,-2,-1.5,-1,-0.5,0,0.5,1,1.5,2,2.5,3,3.5,4,4.5,5,5.5,6,6.5],"tickSize":{"condition":{"test":"datum.value%2==0","value":-6},"value":-3},"labelExpr":"datum.value%2==0?''+datum.value:''","title":"η ring","titleAnchor":"end","titlePadding":-3,"labelPadding":8}},"y":{"field":"s","type":"quantitative","scale":{"domain":[-0.5,39.5],"nice":false,"zero":false},"axis":{"values":[0,1,2,3,4,5,6,7,8,9,10,11,12,13,14,15,16,17,18,19,20,21,22,23,24,25,26,27,28,29,30,31,32,33,34,35,36,37,38,39],"tickSize":{"condition":{"test":"datum.value%5==0","value":-6},"value":-3},"labelExpr":"datum.value%5==0?''+datum.value:''","title":"φ sector","titleAnchor":"end","titlePadding":3,"labelPadding":9}},"color":{"field":"v","type":"quantitative","legend":null,"scale":{"type":"threshold","domain":[1.53,2.33,3.56,5.4,8.3,12.7,19.4,29.6,45,69,105,161,245,375,570,870,1330,2030,3100],"range":["#7000ff","#3a00ff","#0000ff","#0044ff","#0088ff","#00bbff","#00ffff","#00ffc0","#00ff80","#00ff40","#00ff00","#33ff00","#70ff00","#aaff00","#e6ff00","#ffe000","#ffa000","#ff7000","#ff3300","#ff0000"]}}}},{"width":17,"height":212,"data":{"name":"c"},"mark":"rect","encoding":{"y":{"field":"lo","type":"quantitative","scale":{"type":"log","domain":[1,4786],"nice":false},"axis":{"orient":"right","values":[1,2,3,4,5,6,7,8,9,10,20,30,40,50,60,70,80,90,100,200,300,400,500,600,700,800,900,1000,2000,3000,4000],"tickSize":{"condition":{"test":"datum.value==1||datum.value==10||datum.value==100||datum.value==1000","value":-8},"value":-4},"labelExpr":"datum.value==1?'1':datum.value==10?'10':datum.value==100?'10²':datum.value==1000?'10³':''","title":null,"labelPadding":11,"labelFontSize":12}},"y2":{"field":"hi"},"color":{"field":"lo","type":"quantitative","legend":null,"scale":{"type":"threshold","domain":[1.53,2.33,3.56,5.4,8.3,12.7,19.4,29.6,45,69,105,161,245,375,570,870,1330,2030,3100],"range":["#7000ff","#3a00ff","#0000ff","#0044ff","#0088ff","#00bbff","#00ffff","#00ffc0","#00ff80","#00ff40","#00ff00","#33ff00","#70ff00","#aaff00","#e6ff00","#ffe000","#ffa000","#ff7000","#ff3300","#ff0000"]}}}}],"spacing":0}],"spacing":5}
],"spacing":16},{"hconcat":[
{"align":"none","vconcat":[{"width":185,"height":15,"view":{"stroke":"#777","strokeWidth":2},"data":{"values":[{"t":"SCT rdo hitmap_layer2"}]},"mark":{"type":"text","fontWeight":"bold","fontSize":12.5,"font":"Liberation Sans"},"encoding":{"text":{"field":"t"}}},{"hconcat":[{"width":2,"height":212,"view":{"stroke":null},"data":{"values":[]},"mark":"rect","encoding":{}},{"width":294,"height":212,"encoding":{"x":{"field":"e","type":"quantitative","scale":{"domain":[-6.5,6.5],"nice":false,"zero":false},"axis":{"values":[-6.5,-6,-5.5,-5,-4.5,-4,-3.5,-3,-2.5,-2,-1.5,-1,-0.5,0,0.5,1,1.5,2,2.5,3,3.5,4,4.5,5,5.5,6,6.5],"tickSize":{"condition":{"test":"datum.value%2==0","value":-6},"value":-3},"labelExpr":"datum.value%2==0?''+datum.value:''","title":"η ring","titleAnchor":"end","titlePadding":-3,"labelPadding":8}},"y":{"field":"s","type":"quantitative","scale":{"domain":[-0.5,47.5],"nice":false,"zero":false},"axis":{"values":[0,1,2,3,4,5,6,7,8,9,10,11,12,13,14,15,16,17,18,19,20,21,22,23,24,25,26,27,28,29,30,31,32,33,34,35,36,37,38,39,40,41,42,43,44,45,46,47],"tickSize":{"condition":{"test":"datum.value%5==0","value":-6},"value":-3},"labelExpr":"datum.value%5==0?''+datum.value:''","title":"φ sector","titleAnchor":"end","titlePadding":3,"labelPadding":9}}},"layer":[{"data":{"name":"l2"},"mark":{"type":"rect","width":22.9,"height":4.7},"encoding":{"color":{"field":"v","type":"quantitative","legend":null,"scale":{"type":"threshold","domain":[1.53,2.33,3.56,5.4,8.3,12.7,19.4,29.6,45,69,105,161,245,375,570,870,1330,2030,3100],"range":["#7000ff","#3a00ff","#0000ff","#0044ff","#0088ff","#00bbff","#00ffff","#00ffc0","#00ff80","#00ff40","#00ff00","#33ff00","#70ff00","#aaff00","#e6ff00","#ffe000","#ffa000","#ff7000","#ff3300","#ff0000"]}}}},{"data":{"values":[{"e":-2.7,"s":6.5,"t":"12/03/2008"}]},"mark":{"type":"text","font":"Liberation Sans","fontSize":37,"color":"#000","fontWeight":"normal"},"encoding":{"text":{"field":"t"}}}]},{"width":17,"height":212,"data":{"name":"c"},"mark":"rect","encoding":{"y":{"field":"lo","type":"quantitative","scale":{"type":"log","domain":[1,4786],"nice":false},"axis":{"orient":"right","values":[1,2,3,4,5,6,7,8,9,10,20,30,40,50,60,70,80,90,100,200,300,400,500,600,700,800,900,1000,2000,3000,4000],"tickSize":{"condition":{"test":"datum.value==1||datum.value==10||datum.value==100||datum.value==1000","value":-8},"value":-4},"labelExpr":"datum.value==1?'1':datum.value==10?'10':datum.value==100?'10²':datum.value==1000?'10³':''","title":null,"labelPadding":11,"labelFontSize":12}},"y2":{"field":"hi"},"color":{"field":"lo","type":"quantitative","legend":null,"scale":{"type":"threshold","domain":[1.53,2.33,3.56,5.4,8.3,12.7,19.4,29.6,45,69,105,161,245,375,570,870,1330,2030,3100],"range":["#7000ff","#3a00ff","#0000ff","#0044ff","#0088ff","#00bbff","#00ffff","#00ffc0","#00ff80","#00ff40","#00ff00","#33ff00","#70ff00","#aaff00","#e6ff00","#ffe000","#ffa000","#ff7000","#ff3300","#ff0000"]}}}}],"spacing":0}],"spacing":5},
{"align":"none","vconcat":[{"width":185,"height":15,"view":{"stroke":"#777","strokeWidth":2},"data":{"values":[{"t":"SCT rdo hitmap_layer3"}]},"mark":{"type":"text","fontWeight":"bold","fontSize":12.5,"font":"Liberation Sans"},"encoding":{"text":{"field":"t"}}},{"hconcat":[{"width":2,"height":212,"view":{"stroke":null},"data":{"values":[]},"mark":"rect","encoding":{}},{"width":294,"height":212,"data":{"name":"l3"},"mark":{"type":"rect","width":22.9,"height":4.1},"encoding":{"x":{"field":"e","type":"quantitative","scale":{"domain":[-6.5,6.5],"nice":false,"zero":false},"axis":{"values":[-6.5,-6,-5.5,-5,-4.5,-4,-3.5,-3,-2.5,-2,-1.5,-1,-0.5,0,0.5,1,1.5,2,2.5,3,3.5,4,4.5,5,5.5,6,6.5],"tickSize":{"condition":{"test":"datum.value%2==0","value":-6},"value":-3},"labelExpr":"datum.value%2==0?''+datum.value:''","title":"η ring","titleAnchor":"end","titlePadding":-3,"labelPadding":8}},"y":{"field":"s","type":"quantitative","scale":{"domain":[-0.5,55.5],"nice":false,"zero":false},"axis":{"values":[0,2,4,6,8,10,12,14,16,18,20,22,24,26,28,30,32,34,36,38,40,42,44,46,48,50,52,54],"tickSize":{"condition":{"test":"datum.value%10==0","value":-6},"value":-3},"labelExpr":"datum.value%10==0?''+datum.value:''","title":"φ sector","titleAnchor":"end","titlePadding":3,"labelPadding":9}},"color":{"field":"v","type":"quantitative","legend":null,"scale":{"type":"threshold","domain":[1.53,2.33,3.56,5.4,8.3,12.7,19.4,29.6,45,69,105,161,245,375,570,870,1330,2030,3100],"range":["#7000ff","#3a00ff","#0000ff","#0044ff","#0088ff","#00bbff","#00ffff","#00ffc0","#00ff80","#00ff40","#00ff00","#33ff00","#70ff00","#aaff00","#e6ff00","#ffe000","#ffa000","#ff7000","#ff3300","#ff0000"]}}}},{"width":17,"height":212,"data":{"name":"c"},"mark":"rect","encoding":{"y":{"field":"lo","type":"quantitative","scale":{"type":"log","domain":[1,4786],"nice":false},"axis":{"orient":"right","values":[1,2,3,4,5,6,7,8,9,10,20,30,40,50,60,70,80,90,100,200,300,400,500,600,700,800,900,1000,2000,3000,4000],"tickSize":{"condition":{"test":"datum.value==1||datum.value==10||datum.value==100||datum.value==1000","value":-8},"value":-4},"labelExpr":"datum.value==1?'1':datum.value==10?'10':datum.value==100?'10²':datum.value==1000?'10³':''","title":null,"labelPadding":11,"labelFontSize":12}},"y2":{"field":"hi"},"color":{"field":"lo","type":"quantitative","legend":null,"scale":{"type":"threshold","domain":[1.53,2.33,3.56,5.4,8.3,12.7,19.4,29.6,45,69,105,161,245,375,570,870,1330,2030,3100],"range":["#7000ff","#3a00ff","#0000ff","#0044ff","#0088ff","#00bbff","#00ffff","#00ffc0","#00ff80","#00ff40","#00ff00","#33ff00","#70ff00","#aaff00","#e6ff00","#ffe000","#ffa000","#ff7000","#ff3300","#ff0000"]}}}}],"spacing":0}],"spacing":5}
],"spacing":16}],"spacing":14}
